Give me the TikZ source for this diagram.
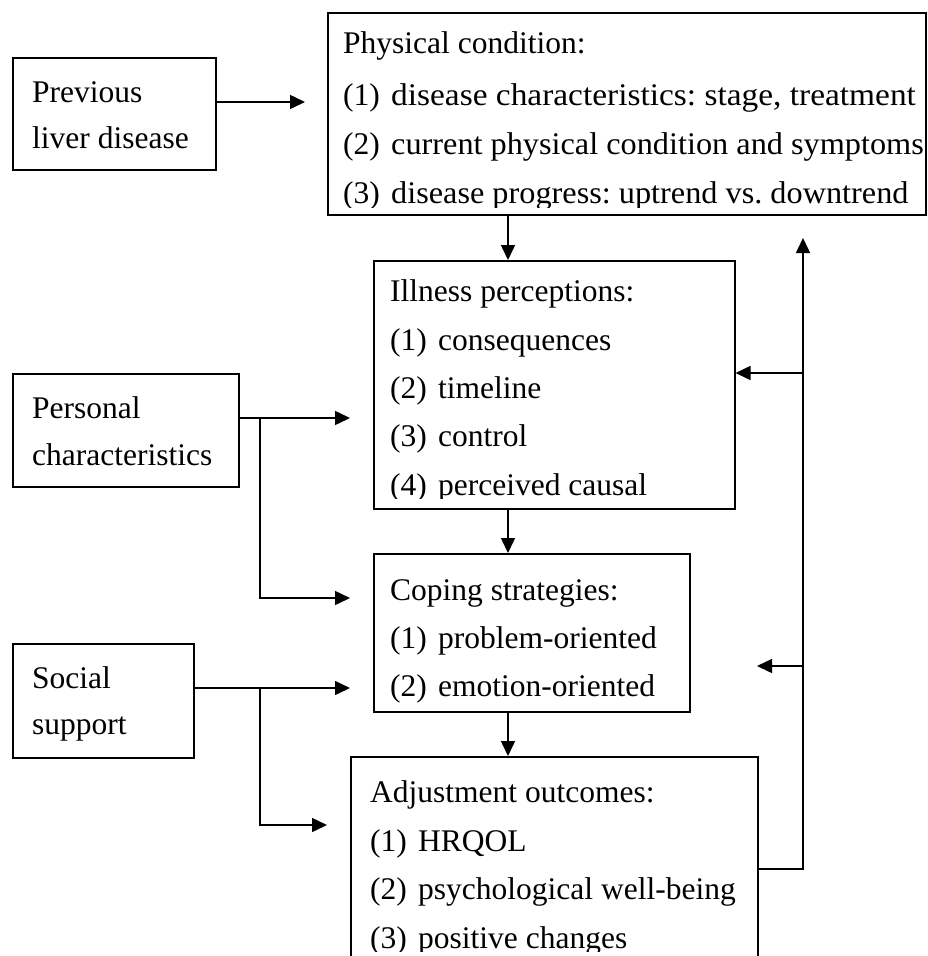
\documentclass[tikz,border=0pt]{standalone}
\usepackage{fontspec}
\setmainfont{Liberation Serif}
\usetikzlibrary{arrows.meta}
\frenchspacing

\newcommand\itemlabel[1]{\makebox[48pt][l]{(#1)}}
% a list entry whose words are set slightly wider
\newcommand\wideitem[3]{\itemlabel{#1}\scalebox{#2}[1]{#3}}

\tikzset{
  box/.style={draw, line width=1.5pt, rectangle, inner sep=0pt, anchor=north west},
  txt/.style={anchor=base west, inner sep=0pt, font=\fontsize{31.5}{40}\selectfont},
  conn/.style={line width=1.5pt},
  arr/.style={conn, -{Triangle[length=15pt,width=14pt]}},
}

\begin{document}
\begin{tikzpicture}[x=1pt, y=-1pt]
  \useasboundingbox (0,0) rectangle (927,956);
  \clip (0,0) rectangle (927,956);

  % boxes
  \node[box, minimum width=598pt, minimum height=202pt] (phys) at (327,12) {};
  \node[box, minimum width=203pt, minimum height=112pt] (prev) at (12,57) {};
  \node[box, minimum width=361pt, minimum height=248pt] (ill)  at (373,260) {};
  \node[box, minimum width=226pt, minimum height=113pt] (pers) at (12,373) {};
  \node[box, minimum width=316pt, minimum height=158pt] (cope) at (373,553) {};
  \node[box, minimum width=181pt, minimum height=114pt] (soc)  at (12,643) {};
  \node[box, minimum width=407pt, minimum height=260pt] (adj)  at (350,756) {};

  % box texts; the text area stops a little above the lower border
  \begin{scope}
    \clip ([yshift=8pt]phys.south west) rectangle (phys.north east);
    \node[txt] (physA) at (343,53)  {Physical condition:};
    \node[txt] (physB) at (343,105) {\wideitem{1}{1.06}{disease characteristics: stage, treatment}};
    \node[txt] (physC) at (343,154) {\wideitem{2}{1.025}{current physical condition and symptoms}};
    \node[txt] (physD) at (343,203) {\wideitem{3}{1.025}{disease progress: uptrend vs. downtrend}};
  \end{scope}
  \begin{scope}
    \clip ([yshift=11pt]ill.south west) rectangle (ill.north east);
    \node[txt] (illA) at (390,301) {Illness perceptions:};
    \node[txt] (illB) at (390,350) {\itemlabel{1}consequences};
    \node[txt] (illC) at (390,398) {\itemlabel{2}timeline};
    \node[txt] (illD) at (390,446) {\itemlabel{3}control};
    \node[txt] (illE) at (390,495) {\itemlabel{4}perceived causal};
  \end{scope}
  \begin{scope}
    \clip (cope.south west) rectangle (cope.north east);
    \node[txt] (copeA) at (390,600) {Coping strategies:};
    \node[txt] (copeB) at (390,648) {\itemlabel{1}problem-oriented};
    \node[txt] (copeC) at (390,696) {\itemlabel{2}emotion-oriented};
  \end{scope}
  \begin{scope}
    \clip (adj.north west) rectangle (adj.east |- 0,951);
    \node[txt] (adjA) at (370,802) {Adjustment outcomes:};
    \node[txt] (adjB) at (370,851) {\itemlabel{1}HRQOL};
    \node[txt] (adjC) at (370,899) {\itemlabel{2}psychological well-being};
    \node[txt] (adjD) at (370,948) {\itemlabel{3}positive changes};
  \end{scope}
  \node[txt] (prevA) at (32,102) {Previous};
  \node[txt] (prevB) at (32,148) {liver disease};
  \node[txt] (persA) at (32,418) {Personal};
  \node[txt] (persB) at (32,465) {characteristics};
  \node[txt] (socA)  at (32,688) {Social};
  \node[txt] (socB)  at (32,734) {support};

  % guide coordinates for the connectors
  \coordinate (colMid)   at (508,0);
  \coordinate (colLeft)  at (260,0);
  \coordinate (prevTip)  at (305,102);
  \coordinate (persTip)  at (350,418);
  \coordinate (persTip2) at (350,598);
  \coordinate (socTip)   at (350,688);
  \coordinate (socTip2)  at (327,825);
  \coordinate (fbBase)   at (803,869);
  \coordinate (fbTop)    at (803,238);
  \coordinate (fbIll)    at (803,373);
  \coordinate (fbCope)   at (803,666);
  \coordinate (fbCopeTip) at (757,666);

  % connectors
  \draw[arr] (prev.east |- prevTip) -- (prevTip);
  \draw[arr] (phys.south -| colMid) -- (ill.north -| colMid);
  \draw[arr] (ill.south -| colMid) -- (cope.north -| colMid);
  \draw[arr] (cope.south -| colMid) -- (adj.north -| colMid);

  \draw[arr] (pers.east |- persTip) -- (persTip);
  \draw[arr] (colLeft |- persTip) -- (colLeft |- persTip2) -- (persTip2);
  \draw[arr] (soc.east |- socTip) -- (socTip);
  \draw[arr] (colLeft |- socTip) -- (colLeft |- socTip2) -- (socTip2);

  \draw[arr] (adj.east |- fbBase) -- (fbBase) -- (fbTop);
  \draw[arr] (fbIll) -- (ill.east |- fbIll);
  \draw[arr] (fbCope) -- (fbCopeTip);
\end{tikzpicture}
\end{document}
